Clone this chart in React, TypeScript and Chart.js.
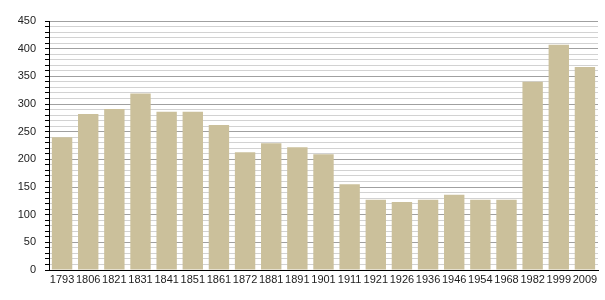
import React, { useEffect, useRef } from "react";
import { Chart, registerables } from "chart.js";

Chart.register(...registerables);

const years = ["1793", "1806", "1821", "1831", "1841", "1851", "1861", "1872", "1881", "1891", "1901", "1911", "1921", "1926", "1936", "1946", "1954", "1968", "1982", "1999", "2009"];
const population = [240, 282, 291, 319, 286, 286, 262, 213, 229, 222, 209, 155, 127, 123, 127, 136, 127, 127, 340, 407, 367];
const yMin = 0;
const yMax = 450;
const minorStep = 10;
const majorStep = 50;

export default function App() {
  const ref = useRef<HTMLCanvasElement | null>(null);
  useEffect(() => {
    if (!ref.current) return;
    const chart = new Chart(ref.current, {
      type: "bar",
      data: {
        labels: years,
        datasets: [
          {
            data: population,
            backgroundColor: "#cbc09b",
            borderWidth: 0,
            categoryPercentage: 1,
            barPercentage: 0.78,
          },
        ],
      },
      options: {
        animation: false,
        responsive: false,
        maintainAspectRatio: false,
        layout: { padding: { top: 21, right: 7, left: 0, bottom: 0 } },
        plugins: { legend: { display: false }, tooltip: { enabled: false } },
        scales: {
          x: {
            grid: { display: false, drawTicks: false },
            border: { display: true, color: "#000", width: 1 },
            ticks: {
              color: "#222",
              font: { family: "'Liberation Sans', Arial, sans-serif", size: 11 },
              padding: 3,
              maxRotation: 0,
              autoSkip: false,
            },
            afterFit: (s: any) => {
              s.height = 30;
            },
          },
          y: {
            min: yMin,
            max: yMax,
            grid: {
              color: (ctx: any) => (ctx.tick && ctx.tick.value % majorStep === 0 ? "#a0a0a0" : "#d2d2d2"),
              tickColor: "#000",
              tickLength: 4,
              lineWidth: 1,
            },
            border: { display: true, color: "#000", width: 1 },
            ticks: {
              stepSize: minorStep,
              autoSkip: false,
              color: "#222",
              padding: 9,
              font: { family: "'Liberation Sans', Arial, sans-serif", size: 11 },
              callback: (v: any) => (Number(v) % majorStep === 0 ? String(v) : ""),
            },
            afterFit: (s: any) => {
              s.width = 49;
            },
          },
        },
      },
    });
    return () => chart.destroy();
  }, []);
  return (
    <div style={{ position: "fixed", left: 0, top: 0, width: 605, height: 300, background: "#fff" }}>
      <canvas ref={ref} width={605} height={300} style={{ width: 605, height: 300 }} />
    </div>
  );
}
